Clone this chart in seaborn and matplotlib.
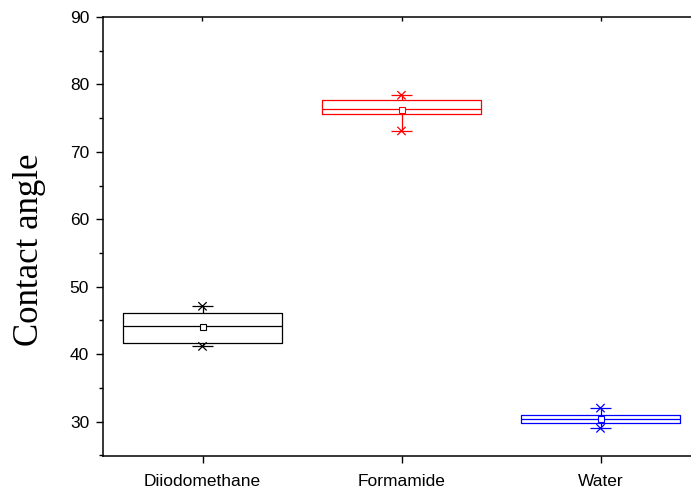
import matplotlib
matplotlib.use("Agg")
import matplotlib.pyplot as plt
from matplotlib.ticker import MultipleLocator
import numpy as np
import pandas as pd
import seaborn as sns

# values (min, Q1, median, Q3, max per liquid)
liquids = ["Diiodomethane", "Formamide", "Water"]
diiodomethane = [41.15, 41.65, 44.2, 46.1, 47.1]
formamide = [73.1, 75.6, 76.4, 77.7, 78.4]
water = [29.0, 29.8, 30.4, 31.0, 32.0]
colors = ["#000000", "#ff0000", "#0000ff"]

df = pd.DataFrame({
    "liquid": np.repeat(liquids, 5),
    "angle": diiodomethane + formamide + water,
})
ext = df.groupby("liquid", sort=False)["angle"].agg(["min", "max"]).reset_index()
ext = ext.melt(id_vars="liquid", value_name="angle")

sns.set_style("ticks")
plt.rcParams["font.family"] = ["Liberation Sans", "DejaVu Sans"]
plt.rcParams["text.color"] = "black"
plt.rcParams["xtick.color"] = "black"
plt.rcParams["ytick.color"] = "black"
plt.rcParams["axes.labelcolor"] = "black"

fig = plt.figure(figsize=(6.91, 4.93), dpi=100)
ax = fig.add_axes([103 / 691, 1 - 456 / 493, 597 / 691, (456 - 17) / 493])

sns.boxplot(data=df, x="liquid", y="angle", hue="liquid", palette=colors,
            fill=False, width=0.8, whis=np.inf, linewidth=0.9,
            showcaps=False, showmeans=True, legend=False,
            meanprops=dict(marker="s", markersize=4.5, markerfacecolor="white",
                           markeredgewidth=0.8),
            ax=ax)

# mean squares take the colour of their box
means = [ln for ln in ax.lines if ln.get_marker() == "s"]
for ln, c in zip(means, colors):
    ln.set_markeredgecolor(c)

# min / max markers with caps
sns.scatterplot(data=ext, x="liquid", y="angle", hue="liquid", palette=colors,
                marker="_", s=15 ** 2, linewidth=0.9, legend=False, ax=ax)
sns.scatterplot(data=ext, x="liquid", y="angle", hue="liquid", palette=colors,
                marker="x", s=6 ** 2, linewidth=0.9, legend=False, ax=ax)

ax.set_xlim(-0.5, 2.5)
ax.set_ylim(24.9, 90)
ax.yaxis.set_major_locator(MultipleLocator(10))
ax.yaxis.set_minor_locator(MultipleLocator(5))

for side in ["left", "bottom", "top"]:
    ax.spines[side].set_linewidth(1.1)
    ax.spines[side].set_color("black")
ax.spines["right"].set_visible(False)

ax.tick_params(axis="y", which="major", length=5, width=1, labelsize=12.5, pad=5)
ax.tick_params(axis="y", which="minor", length=3, width=1)
ax.tick_params(axis="x", which="major", length=5, width=1, labelsize=12.5, pad=8)

# small inward ticks on the top spine
top = ax.secondary_xaxis("top")
top.set_xticks(range(len(liquids)))
top.tick_params(direction="in", length=3, width=1, labeltop=False)
top.spines["top"].set_visible(False)

ax.set_xlabel("")
ax.set_ylabel("Contact angle", fontsize=25, family=["Liberation Serif", "DejaVu Serif"])
ax.yaxis.set_label_coords(-0.095, 0.47)

fig.savefig("out.png", dpi=100)
